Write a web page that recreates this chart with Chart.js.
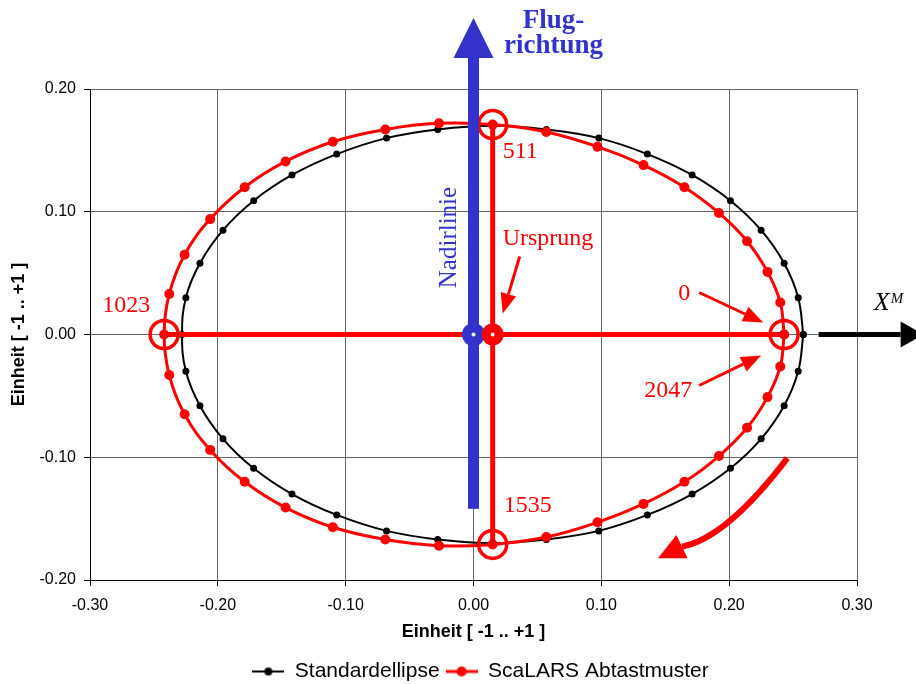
<!DOCTYPE html>
<html>
<head>
<meta charset="utf-8">
<script src="https://cdn.jsdelivr.net/npm/chart.js"></script>
<style>
  html, body { margin: 0; padding: 0; background: #fff; }
</style>
</head>
<body>
<canvas id="ellipse" width="916" height="684"></canvas>
<script>
// Standardellipse, one point every 10 degrees, closed
const stdX = [0.258, 0.254, 0.243, 0.225, 0.201, 0.171, 0.136, 0.098, 0.057, 0.015,
  -0.028, -0.068, -0.107, -0.142, -0.172, -0.196, -0.214, -0.225, -0.228,
  -0.225, -0.214, -0.196, -0.172, -0.142, -0.107, -0.068, -0.028,
  0.015, 0.057, 0.098, 0.136, 0.171, 0.201, 0.225, 0.243, 0.254, 0.258];
const stdY = [0, 0.030, 0.058, 0.085, 0.109, 0.130, 0.147, 0.160, 0.167, 0.170,
  0.167, 0.160, 0.147, 0.130, 0.109, 0.085, 0.058, 0.030, 0,
  -0.030, -0.058, -0.085, -0.109, -0.130, -0.147, -0.160, -0.167,
  -0.170, -0.167, -0.160, -0.147, -0.130, -0.109, -0.085, -0.058, -0.030, 0];

// ScaLARS scan pattern, sample 0 -> 511 -> 1023 -> 1535 -> 2047
const scaX = [0.243, 0.240, 0.230, 0.214, 0.192, 0.165, 0.133, 0.097, 0.057,
  0.015, -0.027, -0.069, -0.110, -0.147, -0.179, -0.206, -0.226, -0.238,
  -0.242, -0.238, -0.226, -0.206, -0.179, -0.147, -0.110, -0.069, -0.027,
  0.015, 0.057, 0.097, 0.133, 0.165, 0.192, 0.214, 0.230, 0.240, 0.243];
const scaY = [0, 0.026, 0.051, 0.076, 0.099, 0.120, 0.138, 0.153, 0.165,
  0.171, 0.172, 0.167, 0.157, 0.141, 0.120, 0.094, 0.065, 0.033,
  0, -0.033, -0.065, -0.094, -0.120, -0.141, -0.157, -0.167, -0.172,
  -0.171, -0.165, -0.153, -0.138, -0.120, -0.099, -0.076, -0.051, -0.026, 0];

// marked samples: 0 (=2047), 511, 1023, 1535
const markLabels = ['0', '511', '1023', '1535'];
const markX = [0.243, 0.015, -0.242, 0.015];
const markY = [0, 0.171, 0, -0.171];

// origin of the scan pattern and the nadir line
const ursprung = { x: 0.015, y: 0 };
const nadir = { x: 0, y: 0, bottom: -0.142 };

const RED = '#ff0000';
const BLUE = '#3333cc';
const SERIF = '"Liberation Serif", "Times New Roman", serif';
const SANS = '"Liberation Sans", Arial, sans-serif';

const pts = (xs, ys) => xs.map((v, i) => ({ x: v, y: ys[i] }));
const fmt = (v) => (Math.abs(v) < 1e-9 ? 0 : v).toFixed(2);

function legendGlyph(color, lineW, r) {
  const c = document.createElement('canvas');
  c.width = 32; c.height = 14;
  const g = c.getContext('2d');
  g.strokeStyle = color; g.lineWidth = lineW;
  g.beginPath(); g.moveTo(0, 7); g.lineTo(32, 7); g.stroke();
  g.fillStyle = color;
  g.beginPath(); g.arc(16, 7, r, 0, Math.PI * 2); g.fill();
  return c;
}

function arrow(ctx, x1, y1, x2, y2, w, len, half, color) {
  const a = Math.atan2(y2 - y1, x2 - x1);
  const bx = x2 - len * Math.cos(a), by = y2 - len * Math.sin(a);
  ctx.strokeStyle = color; ctx.fillStyle = color; ctx.lineWidth = w;
  ctx.beginPath(); ctx.moveTo(x1, y1); ctx.lineTo(bx, by); ctx.stroke();
  ctx.beginPath();
  ctx.moveTo(x2, y2);
  ctx.lineTo(bx + half * Math.sin(a), by - half * Math.cos(a));
  ctx.lineTo(bx - half * Math.sin(a), by + half * Math.cos(a));
  ctx.closePath(); ctx.fill();
}

function dot(ctx, x, y, r, color) {
  ctx.fillStyle = color;
  ctx.beginPath(); ctx.arc(x, y, r, 0, Math.PI * 2); ctx.fill();
  ctx.fillStyle = '#fff';
  ctx.beginPath(); ctx.arc(x, y, 2, 0, Math.PI * 2); ctx.fill();
}

// arrows, labels and the nadir line on top of the datasets
const annotations = {
  id: 'annotations',
  afterLayout(chart) {
    // legend sits a bit right of the plot centre
    chart.legend.left += 52;
    chart.legend.right += 52;
  },
  afterDatasetsDraw(chart) {
    const { ctx, chartArea, scales: { x, y } } = chart;
    const px = (vx, vy) => [x.getPixelForValue(vx), y.getPixelForValue(vy)];
    ctx.save();

    // X^M axis arrow
    const [ax, ay] = px(0.27, 0);
    arrow(ctx, ax, ay, ax + 105, ay, 5, 23, 13, '#000');
    ctx.fillStyle = '#000';
    ctx.textBaseline = 'alphabetic';
    ctx.textAlign = 'left';
    ctx.font = 'italic 26px ' + SERIF;
    ctx.fillText('X', ax + 55, ay - 25);
    ctx.font = 'italic 15px ' + SERIF;
    ctx.fillText('M', ax + 72, ay - 32);

    // Nadirlinie with Flugrichtung arrow
    const [nx, ny] = px(nadir.x, nadir.y);
    const nb = y.getPixelForValue(nadir.bottom);
    const headBase = chartArea.top - 31, tip = chartArea.top - 71;
    ctx.fillStyle = BLUE;
    ctx.fillRect(nx - 5.5, headBase, 11, nb - headBase);
    ctx.beginPath();
    ctx.moveTo(nx - 20, headBase); ctx.lineTo(nx + 20, headBase); ctx.lineTo(nx, tip);
    ctx.closePath(); ctx.fill();
    dot(ctx, nx, ny, 11.5, BLUE);

    ctx.fillStyle = BLUE;
    ctx.font = 'bold 27px ' + SERIF;
    ctx.textAlign = 'center';
    ctx.fillText('Flug-', nx + 80, chartArea.top - 61);
    ctx.fillText('richtung', nx + 80, chartArea.top - 36);

    ctx.save();
    ctx.translate(nx - 18, y.getPixelForValue(0.079));
    ctx.rotate(-Math.PI / 2);
    ctx.font = '25px ' + SERIF;
    ctx.fillText('Nadirlinie', 0, 0);
    ctx.restore();

    // Ursprung
    const [ux, uy] = px(ursprung.x, ursprung.y);
    dot(ctx, ux, uy, 11, RED);
    ctx.font = '24px ' + SERIF;
    ctx.fillStyle = RED;
    ctx.textAlign = 'left';
    ctx.fillText('Ursprung', ux + 10, uy - 90);
    arrow(ctx, ux + 27, uy - 78, ux + 10, uy - 21, 3, 20, 8, RED);

    // sample numbers
    const m = markX.map((v, i) => px(v, markY[i]));
    ctx.fillStyle = RED;
    ctx.textAlign = 'left';
    ctx.fillText(markLabels[1], m[1][0] + 10, m[1][1] + 33);
    ctx.fillText(markLabels[3], m[3][0] + 11, m[3][1] - 32);
    ctx.textAlign = 'right';
    ctx.fillText(markLabels[2], m[2][0] - 14, m[2][1] - 23);
    ctx.fillText('2047', m[0][0] - 92, m[0][1] + 62);
    ctx.textAlign = 'center';
    ctx.fillText(markLabels[0], m[0][0] - 100, m[0][1] - 35);
    arrow(ctx, m[0][0] - 85, m[0][1] - 42, m[0][0] - 21, m[0][1] - 12, 3, 20, 8, RED);
    arrow(ctx, m[0][0] - 85, m[0][1] + 51, m[0][0] - 23, m[0][1] + 21, 3, 20, 8, RED);

    // scan direction
    const [sx, sy] = px(0.2455, -0.1007);
    const [cx, cy] = px(0.198, -0.1658);
    const [bx, by] = px(0.1631, -0.1728);
    const [tx, ty] = px(0.1443, -0.1822);
    ctx.strokeStyle = RED; ctx.lineWidth = 6;
    ctx.beginPath(); ctx.moveTo(sx, sy); ctx.quadraticCurveTo(cx, cy, bx, by); ctx.stroke();
    const a = Math.atan2(ty - by, tx - bx);
    ctx.beginPath();
    ctx.moveTo(tx, ty);
    ctx.lineTo(bx + 13 * Math.sin(a), by - 13 * Math.cos(a));
    ctx.lineTo(bx - 13 * Math.sin(a), by + 13 * Math.cos(a));
    ctx.closePath(); ctx.fill();

    ctx.restore();
  }
};

const legendItems = [
  { text: 'Standardellipse', pointStyle: legendGlyph('#000', 2, 4), fillStyle: '#000', strokeStyle: '#000', lineWidth: 0, hidden: false, datasetIndex: 0 },
  { text: 'ScaLARS Abtastmuster', pointStyle: legendGlyph(RED, 3, 5), fillStyle: RED, strokeStyle: RED, lineWidth: 0, hidden: false, datasetIndex: 1 }
];

new Chart(document.getElementById('ellipse'), {
  type: 'scatter',
  data: {
    datasets: [
      {
        label: 'Standardellipse',
        data: pts(stdX, stdY),
        showLine: true, tension: 0.4,
        borderColor: '#000', borderWidth: 2,
        pointRadius: 3.5, pointBackgroundColor: '#000', pointBorderWidth: 0,
        order: 6
      },
      {
        label: 'ScaLARS Abtastmuster',
        data: pts(scaX, scaY),
        showLine: true, tension: 0.4,
        borderColor: RED, borderWidth: 3,
        pointRadius: 5, pointBackgroundColor: RED, pointBorderWidth: 0,
        order: 5
      },
      {
        label: 'Querachse',
        data: [{ x: markX[2], y: markY[2] }, { x: markX[0], y: markY[0] }],
        showLine: true, borderColor: RED, borderWidth: 5, pointRadius: 0,
        order: 4
      },
      {
        label: 'Längsachse',
        data: [{ x: markX[1], y: markY[1] }, { x: markX[3], y: markY[3] }],
        showLine: true, borderColor: RED, borderWidth: 5, pointRadius: 0,
        order: 3
      },
      {
        label: 'Markierte Abtastungen',
        data: pts(markX, markY),
        showLine: false,
        pointRadius: 14, pointBorderWidth: 3.5,
        pointBorderColor: RED, pointBackgroundColor: 'rgba(0,0,0,0)',
        order: 2
      }
    ]
  },
  options: {
    responsive: false,
    animation: false,
    layout: { padding: { top: 89, right: 59, bottom: -8, left: 0 } },
    plugins: {
      tooltip: { enabled: false },
      legend: {
        position: 'bottom',
        labels: {
          usePointStyle: true, pointStyleWidth: 32, padding: 6,
          font: { family: SANS, size: 21 }, color: '#000',
          generateLabels: () => legendItems
        }
      }
    },
    scales: {
      x: {
        type: 'linear', min: -0.3, max: 0.3,
        ticks: { stepSize: 0.1, callback: fmt, color: '#000', padding: 10, font: { family: SANS, size: 16 } },
        grid: { color: '#666', tickColor: '#000', tickLength: 6 },
        border: { color: '#000' },
        title: {
          display: true, text: 'Einheit [ -1 .. +1 ]', color: '#000',
          font: { family: SANS, size: 18, weight: 'bold' }, padding: { top: 0, bottom: 12 }
        },
        afterFit: (s) => { s.height = 75; }
      },
      y: {
        type: 'linear', min: -0.2, max: 0.2,
        ticks: { stepSize: 0.1, callback: fmt, color: '#000', padding: 8, font: { family: SANS, size: 16 } },
        grid: { color: '#666', tickColor: '#000', tickLength: 6 },
        border: { color: '#000' },
        title: {
          display: true, text: 'Einheit [ -1 .. +1 ]', color: '#000',
          font: { family: SANS, size: 18, weight: 'bold' }, padding: { top: 8, bottom: 0 }
        },
        afterFit: (s) => { s.width = 90; }
      }
    }
  },
  plugins: [annotations]
});
</script>
</body>
</html>
